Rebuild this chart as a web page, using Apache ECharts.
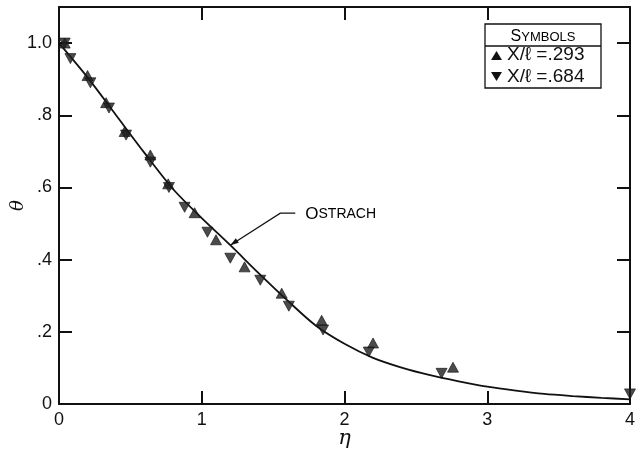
<!DOCTYPE html>
<html>
<head>
<meta charset="utf-8">
<script src="https://cdn.jsdelivr.net/npm/echarts@6/dist/echarts.min.js"></script>
<style>
  html, body { margin: 0; padding: 0; background: #fff; }
  #chart { width: 638px; height: 453px; }
</style>
</head>
<body>
<div id="chart"></div>
<script>
// Ostrach similarity solution for the temperature profile
const ostrachEta   = [0, 0.2, 0.4, 0.6, 0.8, 1.0, 1.2, 1.4, 1.6, 1.8, 2.0, 2.2, 2.4, 2.6, 2.8, 3.0, 3.2, 3.4, 3.6, 3.8, 4.0];
const ostrachTheta = [1.0, 0.905, 0.80, 0.695, 0.595, 0.515, 0.44, 0.362, 0.287, 0.217, 0.167, 0.128, 0.101, 0.080, 0.063, 0.048, 0.037, 0.028, 0.022, 0.017, 0.013];

// Measured points, X/l = .293 (upward triangles)
const upEta   = [0.04, 0.20, 0.33, 0.46, 0.64, 0.765, 0.95, 1.10, 1.30, 1.56, 1.84, 2.20, 2.76];
const upTheta = [1.00, 0.91, 0.835, 0.755, 0.69, 0.61, 0.53, 0.455, 0.38, 0.307, 0.232, 0.169, 0.102];

// Measured points, X/l = .684 (downward triangles)
const downEta   = [0.04, 0.08, 0.22, 0.35, 0.47, 0.64, 0.77, 0.88, 1.04, 1.20, 1.41, 1.61, 1.85, 2.17, 2.68, 4.00];
const downTheta = [1.00, 0.957, 0.89, 0.82, 0.745, 0.67, 0.60, 0.545, 0.476, 0.404, 0.343, 0.271, 0.205, 0.144, 0.085, 0.028];

const xTicks = [0, 1, 2, 3, 4];
const xTickLabels = ['0', '1', '2', '3', '4'];
const yTicks = [0, 0.2, 0.4, 0.6, 0.8, 1.0];
const yTickLabels = ['0', '.2', '.4', '.6', '.8', '1.0'];

const legendTitle = ['S', 'YMBOLS'];
const legendRows = ['X/ℓ =.293', 'X/ℓ =.684'];
const curveName = ['O', 'STRACH'];
const curveNoteAt = [1.2, 0.44];

const zip = (a, b) => a.map((v, i) => [v, b[i]]);
const ink = '#111';
const font = '"Liberation Sans", Arial, sans-serif';

function tickLabel(ticks, labels) {
  return function (v) {
    for (let i = 0; i < ticks.length; i++) {
      if (Math.abs(ticks[i] - v) < 1e-6) return labels[i];
    }
    return '';
  };
}

const chart = echarts.init(document.getElementById('chart'), null, { renderer: 'canvas' });

// Frame lines stay on the plot edges rather than crossing at zero
const axisLineStyle = { show: true, onZero: false, lineStyle: { color: ink, width: 2 } };
const tickStyle = { show: true, inside: true, length: 13, lineStyle: { color: ink, width: 2 } };

chart.setOption({
  animation: false,
  backgroundColor: '#fff',
  grid: { left: 59, right: 8, top: 7, bottom: 49, containLabel: false, outerBoundsMode: 'none' },
  xAxis: [
    {
      type: 'value', min: 0, max: 4, interval: 1,
      name: 'η', nameLocation: 'middle', nameGap: 24, nameMoveOverlap: false,
      nameTextStyle: { fontFamily: '"DejaVu Serif", serif', fontStyle: 'italic', fontSize: 21, color: ink },
      axisLine: axisLineStyle, axisTick: tickStyle,
      axisLabel: { formatter: tickLabel(xTicks, xTickLabels), fontFamily: font, fontSize: 18, color: ink, margin: 7 },
      splitLine: { show: false }
    },
    {
      type: 'value', min: 0, max: 4, interval: 1, position: 'top',
      axisLine: axisLineStyle, axisTick: tickStyle,
      axisLabel: { show: false }, splitLine: { show: false }
    }
  ],
  yAxis: [
    {
      type: 'value', min: 0, max: 1.1, interval: 0.2,
      name: 'θ', nameLocation: 'middle', nameGap: 32, nameRotate: 90, nameMoveOverlap: false,
      nameTextStyle: { fontFamily: '"DejaVu Serif", serif', fontStyle: 'italic', fontSize: 18, color: ink },
      axisLine: axisLineStyle,
      axisTick: tickStyle,
      axisLabel: { formatter: tickLabel(yTicks, yTickLabels), fontFamily: font, fontSize: 18, color: ink, margin: 7 },
      splitLine: { show: false }
    },
    {
      type: 'value', min: 0, max: 1.1, interval: 0.2, position: 'right',
      axisLine: axisLineStyle, axisTick: tickStyle,
      axisLabel: { show: false }, splitLine: { show: false }
    }
  ],
  series: [
    {
      name: 'Ostrach', type: 'line', smooth: 0.3, showSymbol: false,
      data: zip(ostrachEta, ostrachTheta),
      lineStyle: { color: ink, width: 1.8 }, z: 2
    },
    {
      name: 'X/l = .293', type: 'scatter', symbol: 'triangle', symbolSize: [11, 10],
      data: zip(upEta, upTheta),
      itemStyle: { color: '#1e1e1e', borderColor: ink, borderWidth: 0.8 }, z: 3
    },
    {
      name: 'X/l = .684', type: 'scatter', symbol: 'triangle', symbolRotate: 180, symbolSize: [11, 10],
      data: zip(downEta, downTheta),
      itemStyle: { color: '#1e1e1e', borderColor: ink, borderWidth: 0.8 }, z: 3
    }
  ]
});

// Annotation for the Ostrach curve and the symbol key
const tip = chart.convertToPixel({ xAxisIndex: 0, yAxisIndex: 0 }, curveNoteAt);
const elbow = [tip[0] + 50, tip[1] - 32];

const boxX = 485, boxY = 24, boxW = 116, boxH = 64, headH = 22;
chart.setOption({
  graphic: [
    {
      type: 'polyline', z: 10, silent: true,
      shape: { points: [[elbow[0] + 15, elbow[1]], elbow, tip] },
      style: { stroke: ink, lineWidth: 1.2, fill: null }
    },
    {
      type: 'polygon', z: 10, silent: true,
      shape: { points: [tip, [tip[0] + 8.5, tip[1] - 2.5], [tip[0] + 5.5, tip[1] - 7]] },
      style: { fill: ink }
    },
    {
      type: 'text', z: 10, silent: true,
      x: elbow[0] + 25, y: elbow[1] + 1,
      style: {
        text: '{a|' + curveName[0] + '}{b|' + curveName[1] + '}',
        rich: { a: { fontFamily: font, fontSize: 17, color: ink }, b: { fontFamily: font, fontSize: 14, color: ink } },
        verticalAlign: 'middle', align: 'left'
      }
    },
    {
      type: 'rect', z: 10, silent: true,
      shape: { x: boxX, y: boxY, width: boxW, height: boxH },
      style: { fill: '#fff', stroke: ink, lineWidth: 1.3 }
    },
    {
      type: 'line', z: 11, silent: true,
      shape: { x1: boxX, y1: boxY + headH, x2: boxX + boxW, y2: boxY + headH },
      style: { stroke: ink, lineWidth: 1.3 }
    },
    {
      type: 'text', z: 11, silent: true,
      x: boxX + boxW / 2, y: boxY + 13,
      style: {
        text: '{a|' + legendTitle[0] + '}{b|' + legendTitle[1] + '}',
        rich: { a: { fontFamily: font, fontSize: 16, color: ink }, b: { fontFamily: font, fontSize: 13, color: ink } },
        align: 'center', verticalAlign: 'middle'
      }
    },
    {
      type: 'polygon', z: 11, silent: true,
      shape: { points: [[boxX + 6, boxY + 36], [boxX + 17, boxY + 36], [boxX + 11.5, boxY + 27]] },
      style: { fill: ink }
    },
    {
      type: 'polygon', z: 11, silent: true,
      shape: { points: [[boxX + 6, boxY + 48], [boxX + 17, boxY + 48], [boxX + 11.5, boxY + 57]] },
      style: { fill: ink }
    },
    {
      type: 'text', z: 11, silent: true,
      x: boxX + 22, y: boxY + 31,
      style: { text: legendRows[0], fontFamily: font, fontSize: 19, fill: ink, verticalAlign: 'middle', align: 'left' }
    },
    {
      type: 'text', z: 11, silent: true,
      x: boxX + 22, y: boxY + 53,
      style: { text: legendRows[1], fontFamily: font, fontSize: 19, fill: ink, verticalAlign: 'middle', align: 'left' }
    }
  ]
});
</script>
</body>
</html>
